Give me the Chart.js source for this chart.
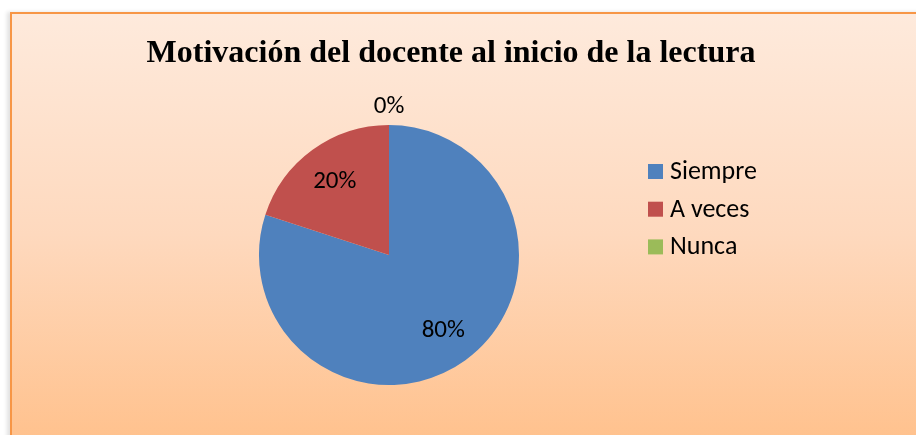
<!DOCTYPE html>
<html>
<head>
<meta charset="utf-8">
<script src="https://cdn.jsdelivr.net/npm/chart.js@4.4.0/dist/chart.umd.min.js"></script>
<style>
  html, body { margin: 0; padding: 0; background: #ffffff; width: 916px; height: 435px; overflow: hidden; }
  #frame {
    position: absolute; left: 10px; top: 12px; width: 920px; height: 440px;
    border-left: 2px solid #F79646; border-top: 2px solid #F79646;
    background: linear-gradient(to bottom, #FEEADC 0%, #FED9BE 50%, #FFC08A 100%);
    box-shadow: -3px 0 4px rgba(0,0,0,0.12);
  }
  #wrap { position: absolute; left: 0; top: 0; width: 916px; height: 435px; }
</style>
</head>
<body>
<div id="frame"></div>
<div id="wrap"><canvas id="c" width="916" height="435"></canvas></div>
<script>
const chartTitle = "Motivación del docente al inicio de la lectura";
const categories = ["Siempre", "A veces", "Nunca"];
const values = [80, 20, 0];
const valueLabels = ["80%", "20%", "0%"];
const colors = ["#4F81BD", "#C0504D", "#9BBB59"];

const labelFont = '25px Carlito, Lato, "Open Sans", sans-serif';
const legendFont = '26px Carlito, Lato, "Open Sans", sans-serif';

const decorPlugin = {
  id: 'decor',
  afterDraw(chart) {
    const ctx = chart.ctx;
    ctx.save();
    // Title
    ctx.fillStyle = '#000';
    ctx.font = 'bold 32px "Liberation Serif", "Times New Roman", serif';
    ctx.textAlign = 'center';
    ctx.textBaseline = 'middle';
    ctx.fillText(chartTitle, 451, 54);

    // Data labels
    const meta = chart.getDatasetMeta(0);
    ctx.font = labelFont;
    meta.data.forEach((arc, i) => {
      const p = arc.getProps(['x','y','startAngle','endAngle','outerRadius'], true);
      const mid = (p.startAngle + p.endAngle) / 2;
      const f = values[i] === 0 ? 1.15 : 0.71;
      const x = p.x + Math.cos(mid) * p.outerRadius * f;
      const y = p.y + Math.sin(mid) * p.outerRadius * f;
      ctx.fillText(valueLabels[i], x, y + 1.5);
    });

    // Legend
    ctx.textAlign = 'left';
    ctx.font = legendFont;
    const lx = 648, ly0 = 171.5, step = 37.7, box = 15;
    categories.forEach((c, i) => {
      const y = ly0 + i * step;
      ctx.fillStyle = colors[i];
      ctx.fillRect(lx, y - box / 2, box, box);
      ctx.fillStyle = '#000';
      ctx.fillText(c, lx + 22, y + 1);
    });
    ctx.restore();
  }
};

new Chart(document.getElementById('c'), {
  type: 'pie',
  data: {
    labels: categories,
    datasets: [{
      data: values,
      backgroundColor: colors,
      borderWidth: 0
    }]
  },
  options: {
    responsive: false,
    animation: false,
    layout: { padding: { left: 259, right: 397, top: 125, bottom: 50 } },
    plugins: {
      legend: { display: false },
      title: { display: false },
      tooltip: { enabled: false }
    }
  },
  plugins: [decorPlugin]
});
</script>
</body>
</html>
